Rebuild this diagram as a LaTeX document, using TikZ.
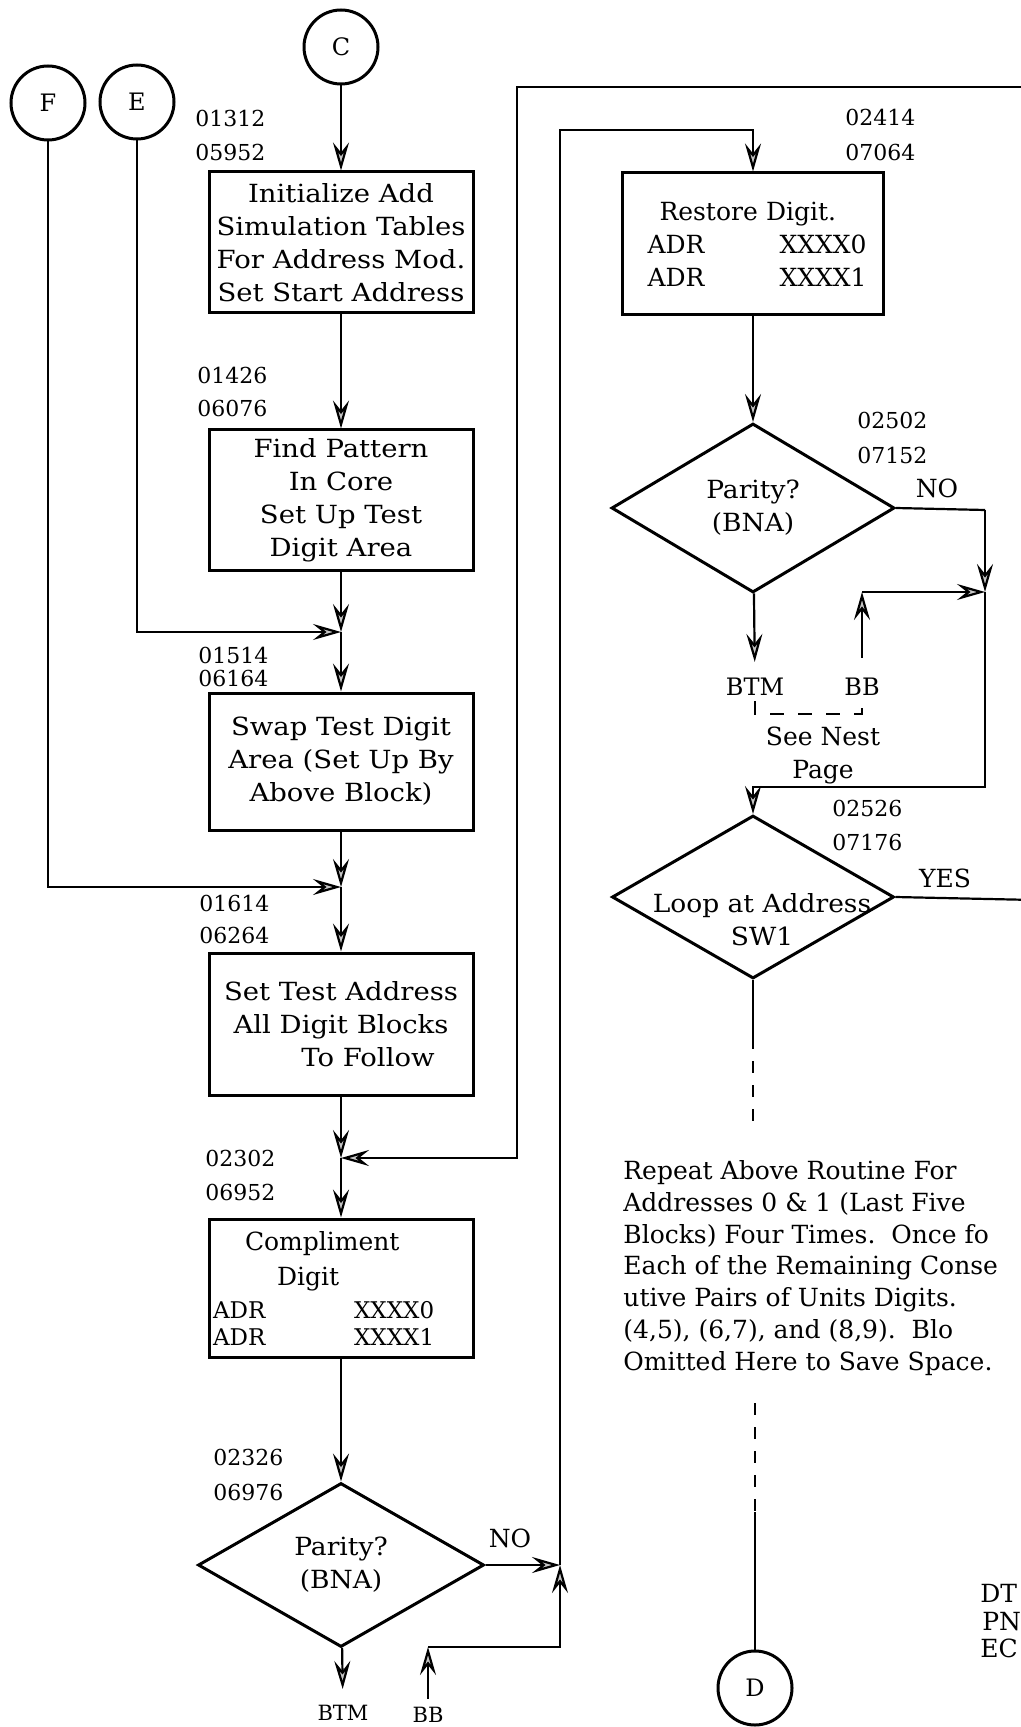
\documentclass[tikz,border=0pt]{standalone}
\usepackage{fontspec}
\setmainfont{DejaVu Serif}
\newfontfamily\boxfont[FakeStretch=1.1]{DejaVu Serif}
\newfontfamily\diafont[FakeStretch=1.06]{DejaVu Serif}
\usetikzlibrary{arrows.meta,shapes.geometric}
\begin{document}
\begin{tikzpicture}[x=0.5pt,y=-0.5pt,
  txt/.style={font=\fontsize{12.5}{16.5}\selectfont},
  box/.style={draw,line width=1.5pt,minimum width=132pt,inner sep=0pt,align=center,font=\boxfont\fontsize{12.5}{16.5}\selectfont},
  dia/.style={draw,diamond,line width=1.5pt,inner sep=0pt,align=center,font=\diafont\fontsize{12.5}{16.5}\selectfont},
  circ/.style={draw,circle,line width=1.5pt,minimum size=37pt,inner sep=0pt,font=\fontsize{12}{14}\selectfont},
  num/.style={anchor=west,inner sep=0pt,font=\fontsize{11}{13}\selectfont},
  lbl/.style={inner sep=0pt,txt},
  con/.style={line width=1.1pt},
  arr/.style={con,-{Stealth[length=14pt,width=8pt,inset=5pt,fill=gray!45]}},
  dsh/.style={con,dash pattern=on 6pt off 6pt},
]
\fill[white] (0,0) rectangle (1021,1727);
\useasboundingbox (0,0) rectangle (1021,1727);

% off-page connectors
\node[circ] (C) at (341,47) {C};
\node[circ] (F) at (48,103) {F};
\node[circ] (E) at (137,102) {E};
\node[circ] (D) at (755,1688) {D};

% left column boxes
\node[box,minimum height=70.5pt] (b1) at (341,242.5)
  {Initialize Add\\Simulation Tables\\For Address Mod.\\Set Start Address};
\node[box,minimum height=70pt] (b2) at (341,500)
  {Find Pattern\\In Core\\Set Up Test\\Digit Area};
\node[box,minimum height=68.5pt] (b3) at (341,761.5)
  {Swap Test Digit\\Area (Set Up By\\Above Block)};
\node[box,minimum height=71pt] (b4) at (341,1024)
  {Set Test Address\\All Digit Blocks\\\hspace*{27pt}To Follow};
\node[box,minimum height=69pt,text width=132pt,align=left,txt] (b5) at (341,1288)
  {\hspace*{18pt}Compliment\\[1pt]
   \hspace*{34pt}Digit\\
   {\fontsize{11.5}{13.5}\selectfont\hspace*{2pt}\makebox[70.5pt][l]{ADR}XXXX0}\\[-3pt]
   {\fontsize{11.5}{13.5}\selectfont\hspace*{2pt}\makebox[70.5pt][l]{ADR}XXXX1}};
\node[dia,minimum width=143pt,minimum height=82pt] (d1) at (341,1565)
  {Parity?\\(BNA)};

% right column
\node[box,minimum width=130.5pt,minimum height=71pt,text width=130.5pt,align=left,txt] (b6) at (753,244)
  {\hspace*{18.5pt}Restore Digit.\\
   \hspace*{12.5pt}\makebox[66pt][l]{ADR}XXXX0\\
   \hspace*{12.5pt}\makebox[66pt][l]{ADR}XXXX1};
\node[dia,minimum width=141.5pt,minimum height=84.5pt] (d2) at (753,508)
  {Parity?\\(BNA)};
\node[dia,minimum width=141pt,minimum height=81.5pt] (d3) at (753,897) {};
\node[inner sep=0pt,align=center,font=\diafont\fontsize{12.5}{16.5}\selectfont] (d3t) at (762,920) {Loop at Address\\SW1};

% address labels
\node[num] (n1a) at (195,118) {01312};
\node[num] (n1b) at (195,152) {05952};
\node[num] (n2a) at (197,375) {01426};
\node[num] (n2b) at (197,408) {06076};
\node[num] (n3a) at (198,655) {01514};
\node[num] (n3b) at (198,678) {06164};
\node[num] (n4a) at (199,903) {01614};
\node[num] (n4b) at (199,935) {06264};
\node[num] (n5a) at (205,1158) {02302};
\node[num] (n5b) at (205,1192) {06952};
\node[num] (n6a) at (213,1457) {02326};
\node[num] (n6b) at (213,1492) {06976};
\node[num] (n7a) at (845,117) {02414};
\node[num] (n7b) at (845,152) {07064};
\node[num] (n8a) at (857,420) {02502};
\node[num] (n8b) at (857,455) {07152};
\node[num] (n9a) at (832,808) {02526};
\node[num] (n9b) at (832,842) {07176};

% branch labels
\node[lbl] (no1) at (510,1538) {NO};
\node[lbl] (no2) at (937,488) {NO};
\node[lbl] (yes) at (945,878) {YES};
\node[inner sep=0pt,font=\fontsize{10.5}{12}\selectfont] (btm1) at (343,1713) {BTM};
\node[inner sep=0pt,font=\fontsize{10.5}{12}\selectfont] (bb1) at (428,1715) {BB};
\node[inner sep=0pt,font=\fontsize{12}{14}\selectfont] (btm2) at (755,687) {BTM};
\node[inner sep=0pt,font=\fontsize{12}{14}\selectfont] (bb2) at (862,687) {BB};
\node[lbl,align=center] (nest) at (823,755) {See Nest\\Page};

% note
\node[inner sep=0pt,anchor=west,align=left,font=\fontsize{12.5}{15.9}\selectfont] (para) at (623,1268)
  {Repeat Above Routine For\\
   Addresses 0 \& 1 (Last Five\\
   Blocks) Four Times.\ \ Once fo\\
   Each of the Remaining Conse\\
   utive Pairs of Units Digits.\\
   (4,5), (6,7), and (8,9).\ \ Blo\\
   Omitted Here to Save Space.};
\node[lbl,anchor=west] (dt) at (980,1593) {DT};
\node[lbl,anchor=west] (pn) at (982,1622) {PN};
\node[lbl,anchor=west] (ec) at (980,1648) {EC};

% junction / corner coordinates
\coordinate (jE) at (341,632);
\coordinate (jF) at (341,887);
\coordinate (jL) at (341,1158);
\coordinate (oR) at (517,1158);
\coordinate (oT) at (517,87);
\coordinate (edgeT) at (1035,87);
\coordinate (iT) at (560,130);
\coordinate (jN) at (560,1565);
\coordinate (bbc) at (428,1647);
\coordinate (nc) at (985,510);
\coordinate (jN2) at (985,592);
\coordinate (rc) at (985,787);
\coordinate (bb2c) at (862,592);
\coordinate (edgeY) at (1035,900);
\coordinate (s1) at (753,1037);
\coordinate (s2) at (753,1125);
\coordinate (s3) at (755,1403);
\coordinate (s4) at (755,1512);

% left column flow
\draw[arr] (C) -- (b1);
\draw[arr] (b1) -- (b2);
\draw[arr] (b2) -- (jE);
\draw[arr] (E) |- (jE);
\draw[arr] (jE) -- (b3);
\draw[arr] (b3) -- (jF);
\draw[arr] (F) |- (jF);
\draw[arr] (jF) -- (b4);
\draw[arr] (b4) -- (jL);
\draw[arr] (edgeT) -- (oT) -- (oR) -- (jL);
\draw[arr] (jL) -- (b5);
\draw[arr] (b5) -- (d1);
\draw[arr,shorten >=8pt] (d1) -- (btm1);
\draw[arr] (d1.east) -- (jN);
\draw[arr,shorten <=4pt] (bb1) -- (bbc);
\draw[arr] (bbc) -| (jN);
\draw[arr] (jN) -- (iT) -| (b6);

% right column flow
\draw[arr] (b6) -- (d2);
\draw[arr,shorten >=8pt] (d2) -- (btm2);
\draw[con] (d2.east) -- (nc);
\draw[arr] (nc) -- (jN2);
\draw[arr,shorten <=10pt] (bb2) -- (bb2c);
\draw[arr] (bb2c) -- (jN2);
\draw[arr] (jN2) -- (rc) -| (d3);
\draw[con,dash pattern=on 7pt off 7pt] ([yshift=-2.5pt]btm2.south) -- ++(0,13) -| ([yshift=-2.5pt]bb2.south);
\draw[con] (d3.east) -- (edgeY);
\draw[con] (d3.south) -- (s1);
\draw[dsh] (s1) -- (s2);
\draw[dsh] (s3) -- (s4);
\draw[con] (s4) -- (D);
\end{tikzpicture}
\end{document}
